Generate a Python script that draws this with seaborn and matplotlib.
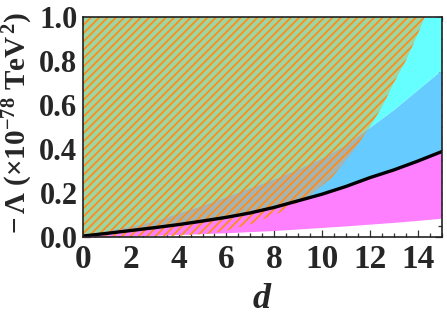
import numpy as np
import pandas as pd
import seaborn as sns
import matplotlib
matplotlib.use("Agg")
import matplotlib.pyplot as plt
from matplotlib.patches import PathPatch
from matplotlib.ticker import MultipleLocator, FormatStrFormatter

# ---- data ----
d = [0, 1, 2, 3, 4, 5, 6, 7, 8, 9, 10, 11, 12, 13, 14, 15]
# black curve
black_curve = [0.005, 0.017, 0.03, 0.043, 0.057, 0.073, 0.09, 0.11, 0.135, 0.165,
               0.195, 0.23, 0.27, 0.305, 0.345, 0.388]
# lower edge of the magenta band
magenta_low = [0.0, 0.002, 0.005, 0.008, 0.012, 0.016, 0.02, 0.025, 0.03, 0.037,
               0.044, 0.051, 0.059, 0.067, 0.076, 0.086]
# upper edge of the blue band
blue_top = [0.01, 0.03, 0.05, 0.075, 0.11, 0.145, 0.185, 0.225, 0.265, 0.31,
            0.36, 0.42, 0.50, 0.58, 0.67, 0.76]
# lower/right edge of the hatched region
hatch_x = [0, 2, 4, 5.2, 6, 7.1, 8.2, 8.8, 9.5, 10.4, 11.3, 12.0, 12.5, 13.0, 13.5, 14.0, 14.3]
hatch_y = [0, 0.0005, 0.006, 0.015, 0.03, 0.062, 0.11, 0.145, 0.19, 0.27, 0.39,
           0.50, 0.59, 0.70, 0.80, 0.92, 1.0]
x_ticks = [0, 2, 4, 6, 8, 10, 12, 14]
y_ticks = [0.0, 0.2, 0.4, 0.6, 0.8, 1.0]

sns.set_theme(style="ticks")
plt.rcParams["font.family"] = ["Liberation Serif", "DejaVu Serif"]
plt.rcParams["font.weight"] = "bold"
plt.rcParams["mathtext.fontset"] = "custom"
plt.rcParams["mathtext.rm"] = "Liberation Serif:bold"
plt.rcParams["mathtext.bf"] = "Liberation Serif:bold"
plt.rcParams["mathtext.it"] = "Liberation Serif:bold:italic"
plt.rcParams["mathtext.default"] = "bf"
plt.rcParams["hatch.linewidth"] = 1.3

fig = plt.figure(figsize=(4.47, 3.2), dpi=100)
ax = fig.add_axes([0.1857, 0.259, 0.802, 0.688])

ax.fill_between(d, magenta_low, black_curve, color="#ff80ff", lw=0, zorder=1)
ax.fill_between(d, black_curve, blue_top, color="#66ccff", lw=0, zorder=1)
ax.fill_between(d, blue_top, 1, color="#66ffff", lw=0, zorder=1)

hatch = ax.fill_between(hatch_x, hatch_y, 1, facecolor="none", edgecolor="#ff8c1a",
                        hatch="////", lw=0, zorder=4)
clip = PathPatch(hatch.get_paths()[0], transform=ax.transData,
                 facecolor="none", edgecolor="none")
ax.add_patch(clip)
green = ax.fill_between(d, blue_top, 1, color="#9dd6a3", lw=0, zorder=2)
green.set_clip_path(clip)
gray = ax.fill_between(d, black_curve, blue_top, color="#a4b4b2", lw=0, zorder=2)
gray.set_clip_path(clip)

sns.lineplot(x=d, y=black_curve, color="black", lw=2.4, ax=ax, zorder=5)

ax.set_xlim(0, 15)
ax.set_ylim(0, 1)
ax.set_xticks(x_ticks)
ax.set_yticks(y_ticks)
ax.xaxis.set_minor_locator(MultipleLocator(0.5))
ax.yaxis.set_minor_locator(MultipleLocator(0.05))
ax.yaxis.set_major_formatter(FormatStrFormatter("%.1f"))
ax.tick_params(which="both", direction="in", top=True, right=True, color="#333333",
               width=0.9)
ax.tick_params(which="major", length=5, pad=5)
ax.tick_params(which="minor", length=3)
ax.tick_params(axis="x", labelsize=24)
ax.tick_params(axis="y", which="major", pad=4, labelsize=22)
for lab in ax.get_xticklabels() + ax.get_yticklabels():
    lab.set_fontweight("bold")
for s in ax.spines.values():
    s.set_color("#222222")
    s.set_linewidth(1.2)
    s.set_zorder(6)

ax.set_xlabel(r"$\mathit{d}$", fontsize=26, labelpad=6)
ax.set_ylabel(r"$-\,\mathit{\Lambda}$ (×10$^{-78}$ TeV$^{\,2}$)", fontsize=21,
              fontweight="bold")
ax.yaxis.set_label_coords(-0.135, 0.52)

fig.savefig("out.png", dpi=100)
